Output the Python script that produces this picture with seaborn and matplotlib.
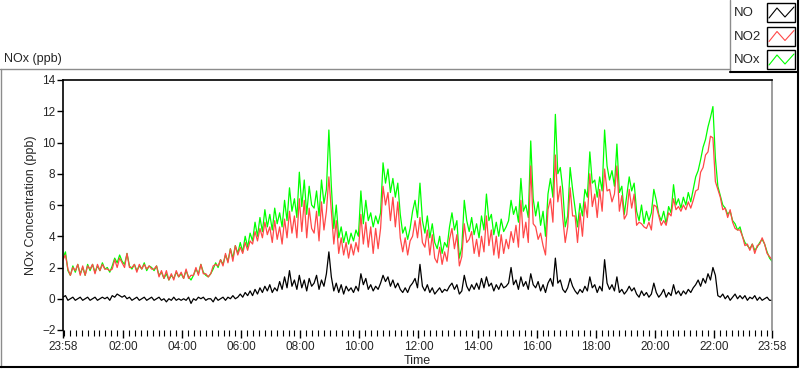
import numpy as np
import pandas as pd
import matplotlib
matplotlib.use("Agg")
import matplotlib.pyplot as plt
import matplotlib.dates as mdates
from matplotlib.lines import Line2D
from matplotlib.patches import Rectangle
import seaborn as sns

# 5-minute readings (ppb) from 23:58 to 23:58 the next day, one row per hour
nox = [
    2.6, 3.0, 1.8, 1.5, 2.1, 1.7, 2.2, 1.6, 2.0, 1.5, 2.2, 1.8,
    2.2, 1.7, 2.1, 1.8, 2.3, 1.9, 2.0, 1.7, 2.1, 2.6, 2.3, 2.8,
    2.4, 2.2, 2.9, 2.1, 1.9, 2.2, 1.8, 2.1, 1.9, 2.3, 1.8, 2.1,
    2.0, 1.8, 2.1, 1.5, 1.7, 1.3, 1.6, 1.2, 1.5, 1.3, 1.7, 1.4,
    1.6, 1.3, 1.8, 1.4, 1.2, 1.5, 1.9, 1.6, 2.2, 1.7, 1.5, 1.4,
    1.6, 1.9, 2.3, 2.0, 2.5, 2.2, 2.8, 2.4, 3.2, 2.6, 3.4, 2.9,
    3.6, 3.0, 4.0, 3.3, 4.2, 3.7, 4.9, 4.0, 5.2, 4.3, 5.7, 4.6,
    5.4, 4.4, 5.8, 4.8, 5.5, 4.6, 6.3, 5.0, 7.1, 5.6, 6.4, 5.2,
    8.1, 5.9, 7.6, 5.4, 7.2, 6.0, 5.8, 6.9, 5.3, 7.6, 6.1, 7.0,
    10.8, 7.2, 4.5, 6.0, 3.9, 4.6, 3.6, 4.3, 3.5, 4.2, 3.7, 4.4,
    4.0, 6.9, 4.8, 6.3, 5.0, 5.5, 4.6, 5.3, 4.8, 5.5, 8.7, 7.4,
    8.3, 6.8, 7.7, 6.5, 7.4, 5.4, 4.2, 4.6, 3.8, 4.5, 5.6, 6.3,
    5.2, 7.4, 5.0, 4.2, 5.3, 3.9, 4.8, 3.6, 3.2, 4.0, 2.9, 3.6,
    3.3, 4.6, 5.5, 4.4, 5.0, 2.6, 3.3, 6.3, 5.0, 4.3, 5.2, 4.1,
    4.8, 3.9, 5.3, 4.4, 6.7, 5.0, 5.4, 4.1, 4.9, 4.0, 5.1, 4.3,
    4.6, 5.0, 6.3, 5.4, 5.9, 4.9, 7.7, 5.6, 6.0, 5.2, 10.1, 6.4,
    5.3, 6.2, 4.7, 5.6, 4.0, 6.7, 7.7, 6.5, 11.8, 8.0, 8.4, 7.0,
    4.6, 5.3, 8.4, 7.0, 5.8, 4.6, 6.1, 5.3, 7.0, 6.5, 9.4, 7.4,
    7.6, 6.5, 7.8, 6.9, 10.8, 8.5, 7.6, 8.2, 7.2, 9.9, 6.8, 7.2,
    5.4, 6.6, 7.8, 6.9, 7.4, 5.6, 5.0, 6.0, 4.8, 5.6, 5.0, 5.5,
    7.0, 6.3, 5.4, 5.0, 5.6, 4.8, 5.9, 5.5, 7.3, 6.0, 6.4, 5.8,
    6.5, 6.0, 6.8, 6.2, 7.0, 7.8, 8.2, 8.9, 9.7, 10.2, 11.0, 11.6,
    12.3, 9.0, 7.2, 6.6, 6.0, 5.8, 5.4, 5.6, 5.0, 4.8, 4.4, 4.6,
    4.0, 3.6, 3.4, 3.2, 3.5, 3.1, 3.3, 3.6, 3.8, 3.5, 3.0, 2.6,
    2.4,
]

no2 = [
    2.5, 2.8, 1.9, 1.5, 2.0, 1.8, 2.2, 1.5, 2.1, 1.5, 2.1, 1.9,
    2.2, 1.6, 2.2, 1.8, 2.2, 1.9, 1.9, 1.8, 1.9, 2.5, 2.0, 2.6,
    2.3, 2.0, 2.9, 2.0, 2.0, 2.2, 1.7, 2.2, 1.9, 2.2, 1.9, 2.1,
    1.9, 1.9, 2.1, 1.4, 1.8, 1.3, 1.8, 1.2, 1.6, 1.2, 1.8, 1.4,
    1.7, 1.3, 1.9, 1.3, 1.5, 1.5, 2.0, 1.5, 2.2, 1.6, 1.6, 1.4,
    1.6, 2.1, 2.2, 2.1, 2.5, 2.1, 2.9, 2.3, 3.2, 2.4, 3.4, 2.8,
    3.3, 2.9, 3.6, 3.1, 3.7, 3.5, 4.3, 3.7, 4.5, 3.9, 4.9, 4.1,
    4.6, 3.6, 5.0, 3.8, 4.6, 3.5, 5.1, 3.9, 5.6, 4.2, 5.3, 3.9,
    6.4, 4.3, 6.3, 3.9, 5.8, 4.5, 4.2, 5.6, 3.7, 6.2, 4.4, 5.6,
    7.8, 5.6, 3.5, 5.0, 2.9, 3.9, 2.8, 3.6, 2.6, 3.5, 2.8, 3.6,
    3.0, 5.4, 3.5, 4.9, 3.3, 4.6, 2.9, 4.5, 3.2, 4.5, 7.2, 6.0,
    6.8, 5.0, 6.5, 4.6, 6.2, 3.9, 3.0, 3.9, 2.8, 3.7, 4.0, 5.0,
    3.9, 5.2, 3.6, 3.3, 4.4, 2.8, 4.1, 2.6, 2.3, 3.3, 2.2, 3.0,
    2.4, 3.8, 4.5, 3.2, 4.1, 2.1, 2.7, 4.8, 3.6, 3.8, 4.3, 2.9,
    3.8, 2.7, 4.0, 3.0, 5.3, 3.4, 4.4, 2.8, 4.0, 2.6, 4.1, 2.9,
    3.8, 3.2, 4.3, 3.6, 4.7, 3.3, 6.3, 3.9, 4.9, 3.6, 8.5, 4.8,
    4.6, 3.8, 4.2, 3.4, 2.8, 5.7, 6.4, 4.9, 9.2, 6.2, 7.2, 5.2,
    3.6, 4.6, 7.1, 5.3, 5.3, 3.6, 5.5, 4.0, 6.2, 5.2, 8.0, 5.9,
    6.7, 5.2, 7.0, 5.6, 8.3, 6.9, 7.0, 6.2, 6.7, 8.5, 5.6, 6.6,
    5.1, 5.4, 7.0, 5.8, 6.7, 4.7, 4.9, 4.8, 4.6, 4.5, 4.9, 4.4,
    6.0, 5.9, 5.3, 4.7, 5.0, 4.7, 5.5, 5.3, 6.4, 5.7, 5.9, 5.6,
    6.0, 5.7, 6.2, 5.8, 6.3, 6.9, 7.0, 8.1, 8.4, 9.2, 9.4, 10.4,
    10.3, 7.5, 7.0, 6.5, 5.7, 5.8, 5.2, 5.7, 4.9, 4.5, 4.4, 4.4,
    4.0, 3.4, 3.5, 3.1, 3.5, 2.9, 3.4, 3.5, 3.9, 3.5, 2.9, 2.7,
    2.5,
]

no = [
    0.1, 0.2, -0.1, 0.0, 0.1, -0.1, 0.0, 0.1, -0.1, 0.0, 0.1, -0.1,
    0.0, 0.1, -0.1, 0.0, 0.1, 0.0, 0.1, -0.1, 0.2, 0.1, 0.3, 0.2,
    0.1, 0.2, 0.0, 0.1, -0.1, 0.0, 0.1, -0.1, 0.0, 0.1, -0.1, 0.0,
    0.1, -0.1, 0.0, 0.1, -0.1, 0.0, -0.2, 0.0, -0.1, 0.1, -0.1, 0.0,
    -0.1, 0.0, -0.1, 0.1, -0.3, 0.0, -0.1, 0.1, 0.0, 0.1, -0.1, 0.0,
    0.0, -0.2, 0.1, -0.1, 0.0, 0.1, -0.1, 0.1, 0.0, 0.2, 0.0, 0.1,
    0.3, 0.1, 0.4, 0.2, 0.5, 0.2, 0.6, 0.3, 0.7, 0.4, 0.8, 0.5,
    0.9, 0.4, 0.7, 0.5, 1.1, 0.6, 1.4, 0.7, 1.8, 0.8, 1.2, 0.6,
    1.5, 0.7, 1.2, 0.5, 1.3, 0.8, 1.0, 1.5, 0.6, 1.2, 0.8, 1.6,
    3.0, 1.4, 0.5, 1.0, 0.4, 0.9, 0.3, 0.8, 0.5, 0.7, 0.4, 0.8,
    0.5, 1.6, 0.9, 1.3, 0.6, 0.9, 0.5, 0.8, 0.6, 1.0, 1.5, 1.1,
    1.4, 0.8, 1.2, 0.7, 1.0, 0.6, 0.4, 0.7, 0.4, 0.8, 1.0, 1.3,
    0.7, 2.2, 0.8, 0.5, 0.9, 0.4, 0.7, 0.3, 0.5, 0.7, 0.4, 0.6,
    0.5, 0.8, 1.0, 0.6, 0.9, 0.3, 0.5, 1.5, 0.8, 0.5, 0.9, 0.6,
    1.0, 0.6, 1.3, 0.7, 1.4, 0.8, 1.0, 0.5, 0.9, 0.6, 1.0, 0.7,
    0.8, 1.0, 2.0, 0.9, 1.2, 0.6, 1.4, 0.8, 1.1, 0.6, 1.6, 0.9,
    0.7, 1.1, 0.5, 0.9, 0.4, 1.0, 1.3, 0.8, 2.6, 1.0, 1.2, 0.6,
    0.4, 0.7, 1.3, 0.8, 0.5, 0.3, 0.6, 0.4, 0.8, 0.5, 1.4, 0.7,
    0.9, 0.4, 0.8, 0.5, 2.5, 1.0, 0.6, 0.9, 0.5, 1.4, 0.4, 0.6,
    0.3, 0.5, 0.8, 0.5, 0.7, 0.3, 0.1, 0.5, 0.2, 0.4, 0.1, 0.3,
    1.0, 0.4, 0.1, 0.3, 0.6, 0.1, 0.4, 0.2, 0.9, 0.3, 0.5, 0.2,
    0.5, 0.3, 0.6, 0.4, 0.7, 0.9, 1.2, 0.8, 1.3, 1.0, 1.6, 1.2,
    2.0, 1.5, 0.2, 0.1, 0.3, 0.0, 0.2, -0.1, 0.1, 0.3, 0.0, 0.2,
    0.0, 0.2, -0.1, 0.1, 0.0, 0.2, -0.1, 0.1, -0.1, 0.0, 0.1, -0.1,
    -0.1,
]

y_ticks = [-2, 0, 2, 4, 6, 8, 10, 12, 14]
x_major_hours = [2, 4, 6, 8, 10, 12, 14, 16, 18, 20, 22]
legend_names = ["NO", "NO2", "NOx"]
legend_colors = ["black", "#ff4848", "#00ff00"]

times = pd.date_range("2023-05-01 23:58", periods=len(nox), freq="5min")

W, H = 800, 369

sns.set_style("white")
plt.rcParams["font.family"] = ["Liberation Sans", "DejaVu Sans"]

fig = plt.figure(figsize=(W / 100, H / 100), dpi=100)
ax = fig.add_axes([63 / W, 1 - 330 / H, (772 - 63) / W, (330 - 80) / H])

# green first so the red NO2 trace sits on top, like the original
sns.lineplot(x=times, y=nox, color=legend_colors[2], lw=0.9, ax=ax)
sns.lineplot(x=times, y=no2, color=legend_colors[1], lw=0.9, ax=ax)
sns.lineplot(x=times, y=no, color=legend_colors[0], lw=0.9, ax=ax)

ax.set_xlim(times[0], times[-1])
ax.set_ylim(-2, 14)
ax.set_yticks(y_ticks)

day2 = times[0].normalize() + pd.Timedelta(days=1)
major = [times[0]] + [day2 + pd.Timedelta(hours=h) for h in x_major_hours] + [times[-1]]
ax.set_xticks(major)
ax.xaxis.set_major_formatter(mdates.DateFormatter("%H:%M"))
ax.xaxis.set_minor_locator(mdates.MinuteLocator(byminute=range(0, 60, 12)))
ax.set_xlabel("")
ax.set_ylabel("")

ax.tick_params(axis="x", which="major", length=6, width=1, pad=2,
               labelsize=8.5, color="black", bottom=True)
ax.tick_params(axis="x", which="minor", length=4, width=0.8, color="black", bottom=True)
ax.tick_params(axis="y", length=4, width=1, pad=1.5, labelsize=8.5,
               color="black", left=True)

ax.spines["bottom"].set_visible(False)
ax.spines["top"].set_color("black")
ax.spines["top"].set_linewidth(1.2)
ax.spines["left"].set_color("black")
ax.spines["left"].set_linewidth(1.2)
ax.spines["right"].set_color("#8c8c8c")
ax.spines["right"].set_linewidth(1.2)


def fx(x):
    return x / W


def fy(y):
    return 1 - y / H


def line(xs, ys, color, lw=1.0):
    fig.add_artist(Line2D([fx(v) for v in xs], [fy(v) for v in ys], color=color, lw=lw))


# outer panel frame
line([0, 730], [69, 69], "#8c8c8c")
line([1, 1], [69, 367], "#8c8c8c")
line([0, 797], [367, 367], "black", 1.5)
line([797.5, 797.5], [0, 367], "black", 1.5)

# legend panel
line([730, 730], [0, 72], "#8c8c8c")
line([730, 798], [72, 72], "black", 1.5)

for i, (name, col) in enumerate(zip(legend_names, legend_colors)):
    y0 = 3 + i * 23.5
    fig.text(fx(734), fy(y0 + 10), name, ha="left", va="center", fontsize=9.5)
    fig.add_artist(Rectangle((fx(767), fy(y0 + 19)), 28 / W, 19 / H,
                             facecolor="white", edgecolor="black", lw=1))
    line([769, 777, 785, 794], [y0 + 15, y0 + 5, y0 + 14, y0 + 4], col, 0.8)

fig.text(fx(4), fy(59), "NOx (ppb)", ha="left", va="center", fontsize=9)
fig.text(fx(31), fy(205), "NOx Concentration (ppb)", ha="center", va="center",
         rotation=90, fontsize=9)
fig.text(fx(417.5), fy(361), "Time", ha="center", va="center", fontsize=9)

fig.savefig("out.png", dpi=100)
